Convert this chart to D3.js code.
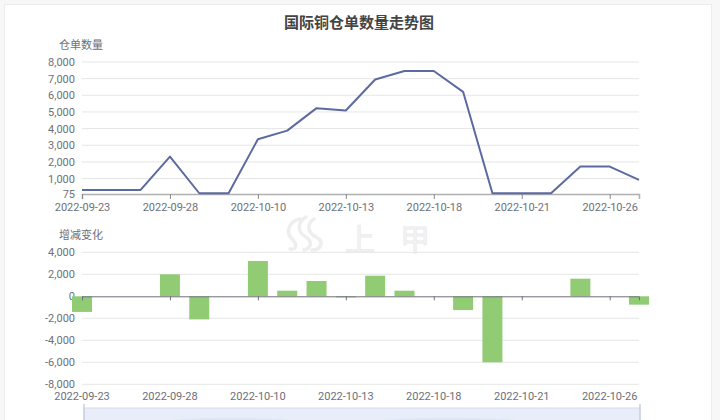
<!DOCTYPE html>
<html><head><meta charset="utf-8">
<script src="https://cdn.jsdelivr.net/npm/d3@7"></script>
<style>
html,body{margin:0;padding:0;background:#f7f7f7;}
svg{display:block;font-family:"Noto Sans CJK SC","Noto Sans",sans-serif;}
</style></head>
<body>
<svg id="c" width="720" height="420"></svg>
<script>
const dates = ["2022-09-23","2022-09-26","2022-09-27","2022-09-28","2022-09-29","2022-09-30","2022-10-10","2022-10-11","2022-10-12","2022-10-13","2022-10-14","2022-10-17","2022-10-18","2022-10-19","2022-10-20","2022-10-21","2022-10-24","2022-10-25","2022-10-26","2022-10-27"];
const stock = [320,320,320,2320,120,120,3360,3880,5230,5090,6950,7460,7460,6210,120,120,120,1720,1720,920];
const change = [-1420,0,0,2000,-2100,0,3210,510,1390,-100,1870,510,0,-1250,-6000,0,0,1600,0,-760];
const topTicks = [75,1000,2000,3000,4000,5000,6000,7000,8000];
const bottomTicks = [-8000,-6000,-4000,-2000,0,2000,4000];
const labelDates = ["2022-09-23","2022-09-28","2022-10-10","2022-10-13","2022-10-18","2022-10-21","2022-10-26"];

const svg = d3.select("#c");
const fmt = d3.format(",");
const axisColor = "#6e7079";

// card
svg.append("rect").attr("x",4.5).attr("y",4.5).attr("width",707).attr("height",430)
  .attr("fill","#fff").attr("stroke","#ececec");

// watermark
const wm = svg.append("g");
wm.append("path").attr("d","M300,219 C289,221 285,232 292,239 C298,245 296,250 290,249 M306,217 C296,223 298,233 306,237 C312,241 312,248 304,250 M314,219 C306,224 308,233 316,237 C324,241 322,250 312,250")
  .attr("fill","none").attr("stroke","#eeeeee").attr("stroke-width",3.5).attr("stroke-linecap","round");
wm.append("text").attr("x",360).attr("y",250).attr("text-anchor","middle")
  .attr("font-size",30).attr("fill","#f4f4f4").attr("stroke","#ebebeb").attr("stroke-width",0.8).text("上");
wm.append("text").attr("x",415).attr("y",250).attr("text-anchor","middle")
  .attr("font-size",30).attr("fill","#f4f4f4").attr("stroke","#ebebeb").attr("stroke-width",0.8).text("甲");

// title
svg.append("text").attr("x",359).attr("y",28).attr("text-anchor","middle")
  .attr("font-size",15).attr("font-weight","bold").attr("fill","#444").text("国际铜仓单数量走势图");

const x = d3.scalePoint().domain(dates).range([82,639]);

// ---------- top chart ----------
const yT = d3.scaleLinear().domain([75,8000]).range([194,62]);
const gT = svg.append("g");
gT.selectAll("line.grid").data(topTicks.filter(d=>d!==75)).join("line")
  .attr("x1",82).attr("x2",639).attr("y1",d=>yT(d)).attr("y2",d=>yT(d))
  .attr("stroke","#e6e6e6");
const yAxisT = d3.axisLeft(yT).tickValues(topTicks).tickFormat(fmt).tickSize(0).tickPadding(7);
gT.append("g").attr("transform","translate(82,0)").call(yAxisT)
  .call(g=>g.select(".domain").remove())
  .call(g=>g.selectAll("text").attr("font-size",11).attr("fill",axisColor).attr("font-family","Roboto, sans-serif"));
const xAxisT = d3.axisBottom(x).tickValues(labelDates).tickSize(5).tickPadding(4);
gT.append("g").attr("transform","translate(0,194)").call(xAxisT)
  .call(g=>g.select(".domain").attr("stroke","#b0b0b0").attr("stroke-width",1.5))
  .call(g=>g.selectAll(".tick line").attr("stroke","#8a8a8a"))
  .call(g=>g.selectAll("text").attr("font-size",11).attr("fill",axisColor).attr("font-family","Roboto, sans-serif"));
gT.append("text").attr("x",81).attr("y",49).attr("text-anchor","middle")
  .attr("font-size",11).attr("fill",axisColor).text("仓单数量");
gT.append("path").datum(stock)
  .attr("d",d3.line().x((d,i)=>x(dates[i])).y(d=>yT(d)))
  .attr("fill","none").attr("stroke","#5d6aa0").attr("stroke-width",2).attr("stroke-linejoin","round");

// ---------- bottom chart ----------
const yB = d3.scaleLinear().domain([-8000,4000]).range([384.3,252.3]);
const gB = svg.append("g");
gB.selectAll("line.grid").data(bottomTicks.filter(d=>d!==0)).join("line")
  .attr("x1",82).attr("x2",639).attr("y1",d=>yB(d)).attr("y2",d=>yB(d))
  .attr("stroke","#e6e6e6");
const yAxisB = d3.axisLeft(yB).tickValues(bottomTicks).tickFormat(d=>fmt(d).replace("−","-")).tickSize(0).tickPadding(7);
gB.append("g").attr("transform","translate(82,0)").call(yAxisB)
  .call(g=>g.select(".domain").remove())
  .call(g=>g.selectAll("text").attr("font-size",11).attr("fill",axisColor).attr("font-family","Roboto, sans-serif"));
gB.append("text").attr("x",81).attr("y",239).attr("text-anchor","middle")
  .attr("font-size",11).attr("fill",axisColor).text("增减变化");
const bw = 20;
gB.selectAll("rect.bar").data(change).join("rect")
  .attr("x",(d,i)=>x(dates[i])-bw/2).attr("width",bw)
  .attr("y",d=>yB(Math.max(0,d))).attr("height",d=>Math.abs(yB(d)-yB(0)))
  .attr("fill","#91cc75");
const xAxisB = d3.axisBottom(x).tickValues(labelDates).tickSize(4).tickPadding(0).tickFormat("");
gB.append("g").attr("transform",`translate(0,${yB(0)})`).call(xAxisB)
  .call(g=>g.select(".domain").attr("stroke","#6e7079"))
  .call(g=>g.selectAll(".tick line").attr("stroke","#6e7079"));
gB.selectAll("text.xl").data(labelDates).join("text")
  .attr("x",d=>x(d)).attr("y",400).attr("text-anchor","middle")
  .attr("font-size",11).attr("fill",axisColor).attr("font-family","Roboto, sans-serif").text(d=>d);

// ---------- dataZoom slider ----------
svg.append("rect").attr("x",84).attr("y",408).attr("width",556).attr("height",20)
  .attr("fill","#e9edf9").attr("stroke","#d5dcf0");
svg.append("ellipse").attr("cx",230).attr("cy",424).attr("rx",80).attr("ry",6).attr("fill","#dfe5f6");
svg.append("ellipse").attr("cx",450).attr("cy",424).attr("rx",90).attr("ry",6).attr("fill","#dfe5f6");
svg.append("path").attr("d","M84,404 L84,420 M640,404 L640,420").attr("stroke","#c9cfe0").attr("stroke-width",1.5);
</script>
</body></html>
